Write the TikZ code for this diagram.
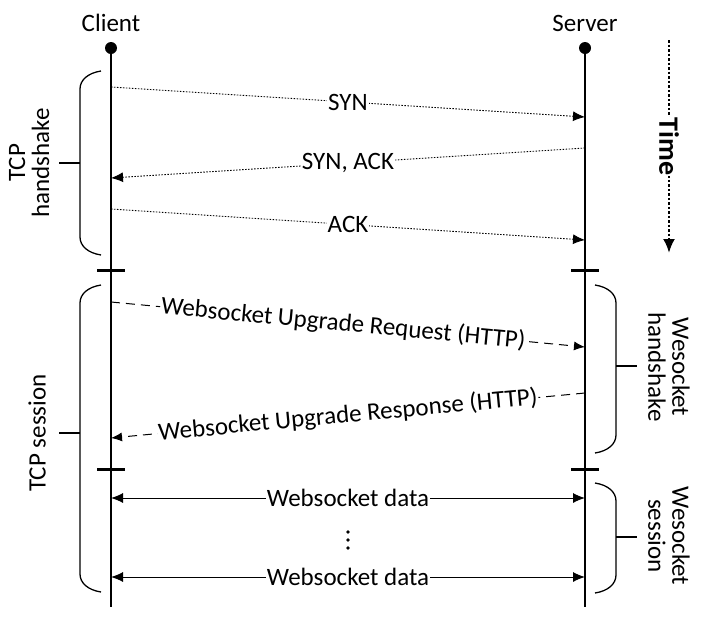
\documentclass[tikz,border=0pt]{standalone}
\usepackage{fontspec}
\setmainfont{Carlito}
\usetikzlibrary{arrows.meta}
\begin{document}
\begin{tikzpicture}[x=1pt,y=-1pt,
  txt/.style={font=\fontsize{25}{24}\selectfont, inner sep=1pt},
  life/.style={line width=1.3pt},
  tickmark/.style={line width=3pt},
  dotmsg/.style={line width=0.9pt, dash pattern=on 1.5pt off 1.5pt, -{Latex[length=12pt,width=10pt]}},
  dashmsg/.style={line width=1pt, dash pattern=on 9pt off 6pt, -{Latex[length=11pt,width=9pt]}},
  datamsg/.style={line width=1pt, {Latex[length=12pt,width=10pt]}-{Latex[length=12pt,width=10pt]}},
  onlbl/.style={txt, fill=white},
  bracket/.style={line width=1.3pt},
]
\useasboundingbox (0,0) rectangle (710,630);

% actors
\node[txt, anchor=base] (cl) at (111,31) {Client};
\node[txt, anchor=base] (sv) at (585,31) {Server};
\coordinate (ctop) at (111,48);
\coordinate (cbot) at (111,607);
\coordinate (stop) at (585,48);
\coordinate (sbot) at (585,607);
\draw[life] (ctop) -- (cbot);
\draw[life] (stop) -- (sbot);
\fill (ctop) circle (6pt);
\fill (stop) circle (6pt);

% tick marks
\draw[tickmark] (97,270) -- (125,270);
\draw[tickmark] (571,270) -- (599,270);
\draw[tickmark] (97,469) -- (125,469);
\draw[tickmark] (571,469) -- (599,469);

% message end points
\coordinate (c1) at (111,87);  \coordinate (s1) at (585,117);
\coordinate (s2) at (585,148); \coordinate (c2) at (111,178);
\coordinate (c3) at (111,209); \coordinate (s3) at (585,240);
\coordinate (c4) at (111,302); \coordinate (s4) at (585,347);
\coordinate (s5) at (585,393); \coordinate (c5) at (111,438);
\coordinate (c6) at (111,498); \coordinate (s6) at (585,498);
\coordinate (c7) at (111,577); \coordinate (s7) at (585,577);

% TCP handshake
\draw[dotmsg] (c1) -- node[onlbl] (m1) {SYN} (s1);
\draw[dotmsg] (s2) -- node[onlbl] (m2) {SYN, ACK} (c2);
\draw[dotmsg] (c3) -- node[onlbl] (m3) {ACK} (s3);

% Websocket handshake
\draw[dashmsg] (c4) -- node[onlbl, sloped, pos=0.49] (m4) {Websocket Upgrade Request (HTTP)} (s4);
\draw[dashmsg] (s5) -- node[onlbl, sloped] (m5) {Websocket Upgrade Response (HTTP)} (c5);

% Websocket data
\draw[datamsg] (c6) -- node[onlbl] (m6) {Websocket data} (s6);
\draw[datamsg] (c7) -- node[onlbl] (m7) {Websocket data} (s7);
\fill (348,532) circle (1.8pt);
\fill (348,540) circle (1.8pt);
\fill (348,548) circle (1.8pt);

% left brackets
\draw[bracket] (101,71) .. controls (88,73) and (80,80) .. (80,89) -- (80,237) .. controls (80,246) and (88,253) .. (101,255);
\draw[bracket] (80,163) -- (59,163);
\node[txt, rotate=90, align=center] (b1) at (29,163) {TCP\\handshake};

\draw[bracket] (101,285) .. controls (88,287) and (80,294) .. (80,303) -- (80,574) .. controls (80,583) and (88,590) .. (101,592);
\draw[bracket] (80,433) -- (59,433);
\node[txt, rotate=90] (b2) at (37,433) {TCP session};

% right brackets
\draw[bracket] (595,285) .. controls (608,287) and (616,294) .. (616,303) -- (616,435) .. controls (616,444) and (608,451) .. (595,453);
\draw[bracket] (616,366) -- (637,366);
\node[txt, rotate=-90, align=center] (b3) at (669,367) {Wesocket\\handshake};

\draw[bracket] (595,483) .. controls (608,485) and (616,492) .. (616,501) -- (616,575) .. controls (616,584) and (608,591) .. (595,593);
\draw[bracket] (616,537) -- (637,537);
\node[txt, rotate=-90, align=center] (b4) at (669,536) {Wesocket\\session};

% time arrow
\coordinate (t0) at (669,40);
\coordinate (t1) at (669,253);
\draw[line width=2.5pt, dash pattern=on 2.5pt off 2pt, -{Latex[length=14pt,width=12pt]}] (t0) -- node[fill=white, inner sep=1pt, rotate=-90, font=\fontsize{28}{28}\selectfont\bfseries] (tl) {Time} (t1);
\end{tikzpicture}
\end{document}
